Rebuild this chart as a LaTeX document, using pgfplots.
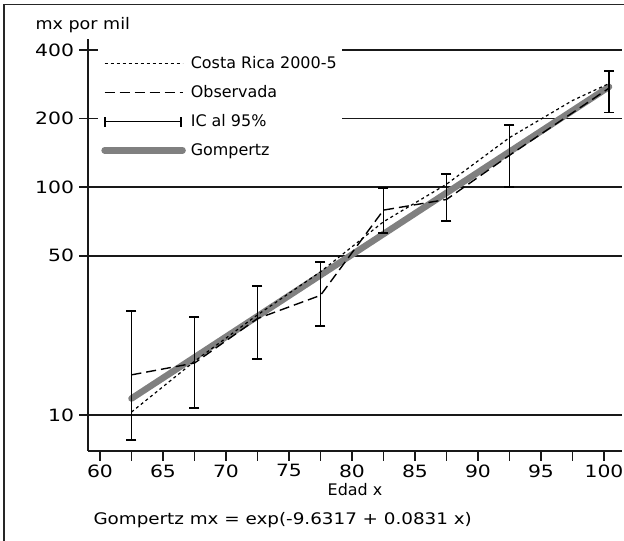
\documentclass[border=0pt]{standalone}
\usepackage{fontspec}
\setmainfont{DejaVu Sans}
\newfontfamily\widetick{DejaVu Sans}[FakeStretch=1.2]
\newfontfamily\widecap{DejaVu Sans}[FakeStretch=1.15]
\newfontfamily\widetitle{DejaVu Sans}[FakeStretch=1.1]
\usepackage{pgfplots}
\pgfplotsset{compat=1.18}
\definecolor{gomp}{HTML}{808080}
\pgfplotsset{
  longleg/.style={legend image code/.code={\draw[##1] (0bp,0bp) -- (78bp,0bp);}},
  icleg/.style={legend image code/.code={\draw[##1] (0bp,0bp) -- (76bp,0bp); \draw[##1] (0bp,-5bp) -- (0bp,5bp); \draw[##1] (76bp,-5bp) -- (76bp,5bp);}},
}
\newcommand{\fs}{\fontsize{16}{19}\selectfont}
\newcommand{\ft}{\widetick\fontsize{17}{20}\selectfont}
\begin{document}
\fs
\begin{tikzpicture}[x=1bp,y=1bp]
\path[use as bounding box] (0,0) rectangle (624,541);
\draw[line width=1.5bp, black!85] (4,-5) -- (4,536.5) -- (630,536.5);
\begin{axis}[
  at={(88bp,90bp)}, anchor=south west,
  scale only axis, width=534bp, height=412bp,
  xmin=59.05, xmax=101.43,
  ymode=log, ymin=6.95, ymax=447,
  axis lines=left,
  axis line style={-, line width=1.6bp, black!90},
  every tick/.style={line width=1.6bp, black!90},
  tick align=outside,
  major tick length=10bp, minor tick length=10bp,
  xtick={60,65,70,75,80,85,90,95,100},
  minor xtick={62.5,67.5,72.5,77.5,82.5,87.5,92.5,97.5},
  ytick=\empty, yminorticks=false,
  extra y ticks={10,50,100,200,400},
  extra y tick labels={10,50,100,200,400},
  extra y tick style={tick align=center, major tick length=17bp, grid=major},
  grid style={line width=1.6bp, black!90},
  /pgf/number format/assume math mode=true,
  tick label style={font=\ft},
  xticklabel style={yshift=2bp},
  xlabel={Edad x},
  xlabel style={font=\fs, at={(rel axis cs:0.5,0)}, anchor=center, yshift=-39bp},
  legend style={at={(rel axis cs:0.019,0.99)}, anchor=north west, fill=white, draw=none,
    font=\fs, row sep=10.5bp, column sep=3bp, inner xsep=3bp, inner ysep=11bp, cells={anchor=west}},
  legend cell align=left,
]
\addlegendimage{longleg, black, line width=1.2bp, dash pattern=on 3bp off 3bp}
\addlegendentry{Costa Rica 2000-5}
\addlegendimage{longleg, black, line width=1.4bp, dash pattern=on 10bp off 5bp}
\addlegendentry{Observada}
\addlegendimage{icleg, black, line width=1.9bp}
\addlegendentry{IC al 95\%}
\addlegendimage{longleg, gomp, line width=6.5bp, line cap=round}
\addlegendentry{Gompertz}

% Gompertz fit
\addplot[gomp, line width=6.5bp, line cap=round, forget plot] coordinates {(62.5,11.81) (100.4,275.7)};
% Costa Rica 2000-5
\addplot[black, line width=1.2bp, dash pattern=on 3bp off 3bp, forget plot] coordinates {
(62.5,10.3) (67.5,17.2) (72.5,27.5) (77.5,42.5) (82.5,70.5) (87.5,103) (92.5,165) (97.5,240) (100.4,285)};
% Observada
\addplot[black, line width=1.4bp, dash pattern=on 10bp off 5bp, forget plot] coordinates {
(62.5,15.0) (67.5,16.9) (72.5,26.5) (77.5,33.5) (82.5,79.3) (87.5,88.3) (92.5,138) (100.4,272)};
% IC al 95%
\addplot[black, line width=1.9bp, mark=-, mark size=5bp, mark options={solid}, unbounded coords=jump, forget plot] coordinates {
(62.5,7.77) (62.5,28.7) (62.5,nan)
(67.5,10.7) (67.5,26.8) (67.5,nan)
(72.5,17.55) (72.5,36.9) (72.5,nan)
(77.5,24.6) (77.5,47.0) (77.5,nan)
(82.5,63.0) (82.5,99.3) (82.5,nan)
(87.5,70.9) (87.5,114) (87.5,nan)
(92.5,100.3) (92.5,187.5) (92.5,nan)
(100.4,212.6) (100.4,323.6)};
\end{axis}
\node[anchor=west, font=\widetitle\fs] at (30,516) {mx por mil};
\node[anchor=west, font=\widecap\fs] at (88,21) {Gompertz mx = exp(-9.6317 + 0.0831 x)};
\end{tikzpicture}
\end{document}
